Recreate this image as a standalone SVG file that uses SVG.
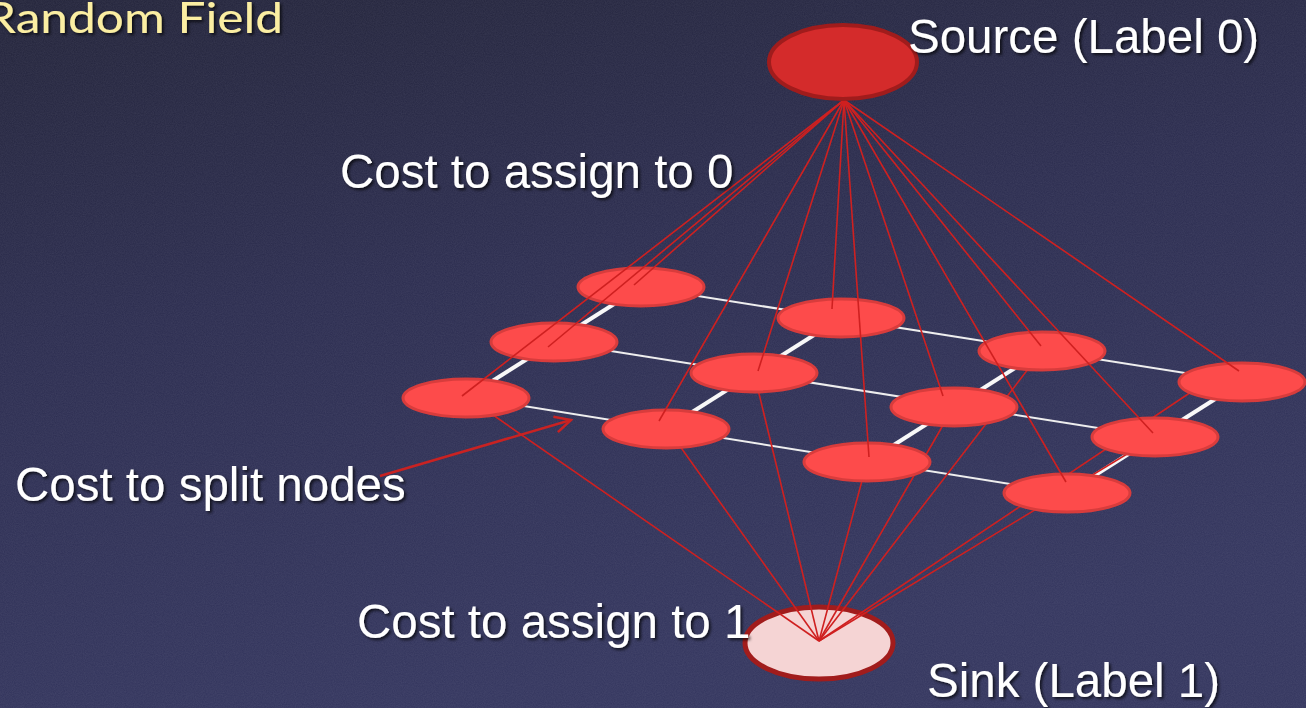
<svg xmlns="http://www.w3.org/2000/svg" width="1306" height="708" viewBox="0 0 1306 708">
<defs>
<linearGradient id="bg" x1="0" y1="0" x2="0.3" y2="1">
<stop offset="0" stop-color="#222339"/>
<stop offset="0.45" stop-color="#2b2c4f"/>
<stop offset="1" stop-color="#33355e"/>
</linearGradient>
<filter id="noise" x="0" y="0" width="100%" height="100%">
<feTurbulence type="fractalNoise" baseFrequency="0.9" numOctaves="2" seed="3"/>
<feColorMatrix type="matrix" values="0 0 0 0 0.5  0 0 0 0 0.5  0 0 0 0 0.6  0 0 0 0.12 0"/>
</filter>
<filter id="shadow" x="-10%" y="-30%" width="120%" height="160%">
<feDropShadow dx="2" dy="2" stdDeviation="1.5" flood-color="#000" flood-opacity="0.7"/>
</filter>
<marker id="open" viewBox="0 0 20 20" refX="18" refY="10" markerWidth="20" markerHeight="20" markerUnits="userSpaceOnUse" orient="auto">
<path d="M2,2 L18,10 L2,18" fill="none" stroke="#c92222" stroke-width="2.5"/>
</marker>
<style>
.lbl{font-family:"Liberation Sans",Arial,sans-serif;font-size:47.5px;fill:#ffffff;filter:url(#shadow)}
.title{font-family:Lato,"Open Sans",sans-serif;font-size:42px;fill:#fbeea2;filter:url(#shadow)}
.row{stroke:#eeeeee;stroke-width:2;fill:none}
.col{stroke:#f8f8f8;stroke-width:4;fill:none}
.edge{stroke:#cf2020;stroke-width:1.6;fill:none}
.node{fill:#fd4b4b;stroke:#d83c3c;stroke-width:3}
</style>
</defs>
<rect width="1306" height="708" fill="url(#bg)"/>
<rect width="1306" height="708" filter="url(#noise)"/>

<text class="title" x="-15" y="33" textLength="298" lengthAdjust="spacingAndGlyphs">Random Field</text>

<g id="grid">
<line class="row" x1="641" y1="287" x2="1242" y2="382"/>
<line class="row" x1="554" y1="342" x2="1155" y2="437"/>
<line class="row" x1="467" y1="397" x2="1067" y2="493"/>
<line class="col" x1="641" y1="287" x2="467" y2="397"/>
<line class="col" x1="841" y1="318" x2="667" y2="428"/>
<line class="col" x1="1042" y1="351" x2="867" y2="462"/>
<line class="col" x1="1242" y1="382" x2="1067" y2="493"/>
</g>

<g id="sink">
<ellipse cx="819" cy="643" rx="74" ry="36" fill="#f5d4d4" stroke="#a11c1c" stroke-width="5"/>
</g>

<g id="sink-edges">
<line class="edge" x1="1042" y1="351" x2="819" y2="641"/>
<line class="edge" x1="1215" y1="376" x2="819" y2="641"/>
<line class="edge" x1="754" y1="373" x2="819" y2="641"/>
<line class="edge" x1="954" y1="406" x2="819" y2="641"/>
<line class="edge" x1="1155" y1="437" x2="819" y2="641"/>
<line class="edge" x1="467" y1="397" x2="819" y2="641"/>
<line class="edge" x1="667" y1="428" x2="819" y2="641"/>
<line class="edge" x1="867" y1="462" x2="819" y2="641"/>
</g>

<g id="n1"><ellipse class="node" cx="641" cy="287" rx="63" ry="19"/></g>
<g id="n2"><ellipse class="node" cx="841" cy="318" rx="63" ry="19"/></g>
<g id="n3"><ellipse class="node" cx="1042" cy="351" rx="63" ry="19"/></g>
<g id="n4"><ellipse class="node" cx="1242" cy="382" rx="63" ry="19"/></g>
<g id="n5"><ellipse class="node" cx="554" cy="342" rx="63" ry="19"/></g>
<g id="n6"><ellipse class="node" cx="754" cy="373" rx="63" ry="19"/></g>
<g id="n7"><ellipse class="node" cx="954" cy="407" rx="63" ry="19"/></g>
<g id="n8"><ellipse class="node" cx="1155" cy="437" rx="63" ry="19"/></g>
<g id="n9"><ellipse class="node" cx="466" cy="398" rx="63" ry="19"/></g>
<g id="n10"><ellipse class="node" cx="666" cy="429" rx="63" ry="19"/></g>
<g id="n11"><ellipse class="node" cx="867" cy="462" rx="63" ry="19"/></g>
<g id="n12"><ellipse class="node" cx="1067" cy="493" rx="63" ry="19"/></g>

<g id="source-edges">
<line class="edge" x1="844" y1="100" x2="634" y2="285"/>
<line class="edge" x1="844" y1="100" x2="832" y2="309"/>
<line class="edge" x1="844" y1="100" x2="1041" y2="346"/>
<line class="edge" x1="844" y1="100" x2="1239" y2="371"/>
<line class="edge" x1="844" y1="100" x2="548" y2="347"/>
<line class="edge" x1="844" y1="100" x2="758" y2="371"/>
<line class="edge" x1="844" y1="100" x2="943" y2="396"/>
<line class="edge" x1="844" y1="100" x2="1153" y2="433"/>
<line class="edge" x1="844" y1="100" x2="462" y2="396"/>
<line class="edge" x1="844" y1="100" x2="659" y2="421"/>
<line class="edge" x1="844" y1="100" x2="869" y2="457"/>
<line class="edge" x1="844" y1="100" x2="1066" y2="482"/>
</g>

<g id="source">
<ellipse cx="843" cy="62" rx="74" ry="37" fill="#d42b2b" stroke="#a01c1c" stroke-width="4"/>
</g>

<g id="split-arrow">
<line x1="380" y1="476" x2="571" y2="420" stroke="#c92222" stroke-width="2.5" marker-end="url(#open)"/>
</g>

<g id="labels">
<text class="lbl" x="908" y="53">Source (Label 0)</text>
<text class="lbl" x="340" y="188">Cost to assign to 0</text>
<text class="lbl" x="15" y="501">Cost to split nodes</text>
<text class="lbl" x="357" y="638">Cost to assign to 1</text>
<text class="lbl" x="927" y="697">Sink (Label 1)</text>
</g>
</svg>
